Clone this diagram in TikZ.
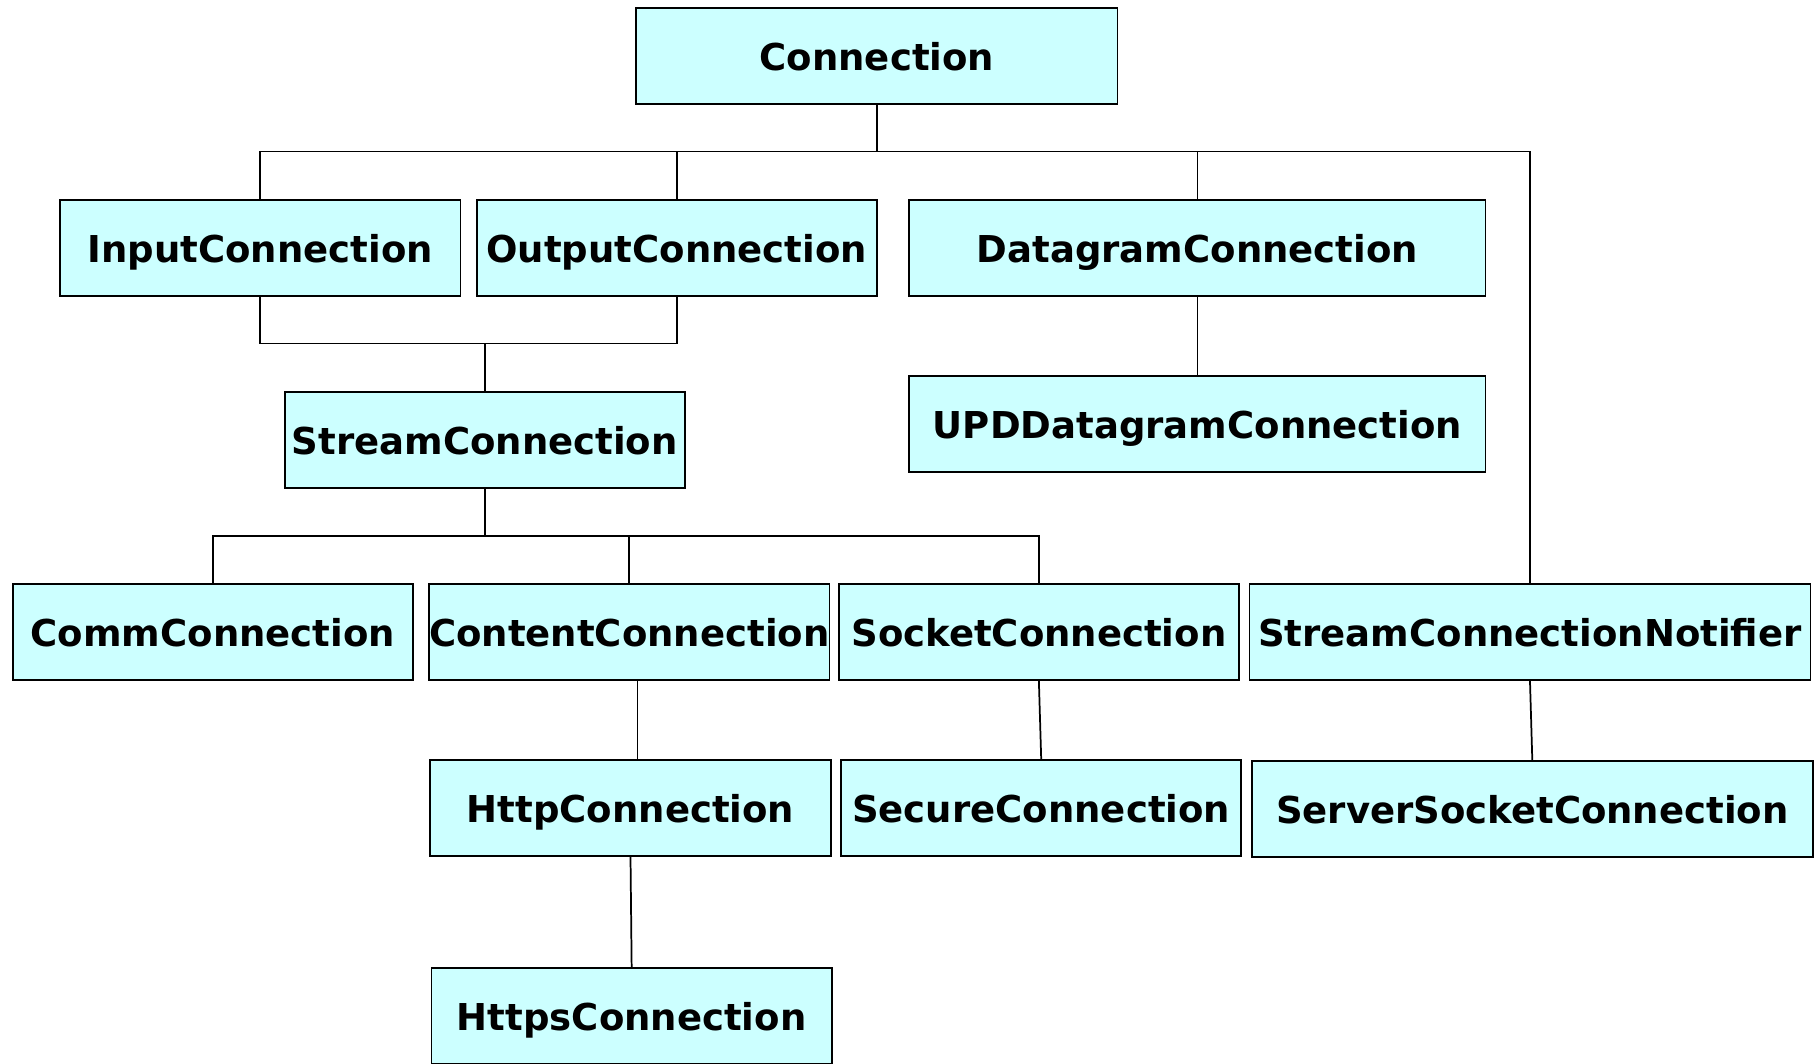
\documentclass[tikz,border=0pt]{standalone}
\usepackage{fontspec}
\setmainfont{DejaVu Sans}
\usetikzlibrary{calc}
\definecolor{boxfill}{HTML}{CCFFFF}
\begin{document}
\begin{tikzpicture}[x=0.5pt,y=-0.5pt,
  box/.style={draw=black, line width=0.8pt, fill=boxfill, rectangle, inner sep=0pt,
    minimum width=173pt, minimum height=41.5pt, text height=12.5pt, text depth=0pt,
    font=\fontsize{16}{19}\selectfont\bfseries},
  wide/.style={minimum width=249pt},
  wider/.style={minimum width=242.5pt},
  conn/.style={draw=black, line width=0.75pt}]
\useasboundingbox (0,0) rectangle (1568,919);
\clip (0,0) rectangle (1568,919);
\node[box, minimum width=208pt] (conn) at (758,48.5) {Connection};
\node[box] (in) at (225,214.5) {InputConnection};
\node[box] (out) at (585,214.5) {OutputConnection};
\node[box, wide] (dg) at (1035,214.5) {DatagramConnection};
\node[box] (sc) at (419,380.5) {StreamConnection};
\node[box, wide] (upd) at (1035,366.5) {UPDDatagramConnection};
\node[box] (comm) at (184,546.5) {CommConnection};
\node[box] (cont) at (544,546.5) {ContentConnection};
\node[box] (sock) at (898,546.5) {SocketConnection};
\node[box, wider] (scn) at (1322.5,546.5) {StreamConnectionNotifier};
\node[box] (http) at (545,698.5) {HttpConnection};
\node[box] (sec) at (900,698.5) {SecureConnection};
\node[box, wider] (ss) at (1324.5,699.5) {ServerSocketConnection};
\node[box] (https) at (546,878.5) {HttpsConnection};
\coordinate (bus1) at (758,131);
\coordinate (bus2) at (419,297);
\coordinate (bus3) at (419,463);
\draw[conn] (conn.south) -- (bus1);
\draw[conn] (in.north) |- (bus1) -| (scn.north);
\draw[conn] (out.north) -- (out.north |- bus1);
\draw[conn] (dg.north) -- (dg.north |- bus1);
\draw[conn] (in.south) |- (bus2) -| (out.south);
\draw[conn] (bus2) -- (sc.north);
\draw[conn] (dg.south) -- (upd.north);
\draw[conn] (sc.south) -- (bus3);
\draw[conn] (comm.north) |- (bus3) -| (sock.north);
\draw[conn] (cont.north) -- (cont.north |- bus3);
\draw[conn] ($(cont.south)+(7,0)$) -- ($(http.north)+(6,0)$);
\draw[conn] (sock.south) -- (sec.north);
\draw[conn] (scn.south) -- (ss.north);
\draw[conn] (http.south) -- (https.north);
\end{tikzpicture}
\end{document}
